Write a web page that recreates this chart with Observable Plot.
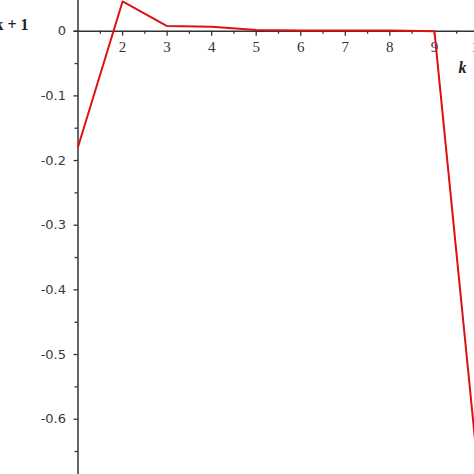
<!DOCTYPE html>
<html>
<head>
<meta charset="utf-8">
<script src="https://cdn.jsdelivr.net/npm/d3@7"></script>
<script src="https://cdn.jsdelivr.net/npm/@observablehq/plot@0.6"></script>
<style>
  html, body { margin: 0; padding: 0; background: #fff; overflow: hidden; }
  #chart svg { overflow: hidden; display: block; }
</style>
</head>
<body>
<div id="chart"></div>
<script>
// Data
const kValues = [1, 2, 3, 4, 5, 6, 7, 8, 9, 10];
const seriesValues = [-0.179, 0.046, 0.008, 0.007, 0.002, 0.001, 0.001, 0.001, 0.0, -0.693];
const xTickLabels = [2, 3, 4, 5, 6, 7, 8, 9, 10];
const xMinorTicks = [1.5, 2.5, 3.5, 4.5, 5.5, 6.5, 7.5, 8.5, 9.5];
const yTickValues = [0, -0.1, -0.2, -0.3, -0.4, -0.5, -0.6];
const yMinorTicks = [-0.05, -0.15, -0.25, -0.35, -0.45, -0.55, -0.65];
const xAxisLabel = "k";
const yAxisLabel = "k + 1";

const data = kValues.map((k, i) => ({k, v: seriesValues[i]}));
const axisColor = "#333";
const fmtY = d => d === 0 ? "0" : "-" + Math.abs(d).toFixed(1);

const chart = Plot.plot({
  width: 474,
  height: 474,
  marginLeft: 0,
  marginRight: 0,
  marginTop: 0,
  marginBottom: 0,
  x: {domain: [-0.74, 9.9], axis: null},
  y: {domain: [-0.6855, 0.0475], axis: null},
  marks: [
    // y axis line
    Plot.ruleX([1], {stroke: axisColor, strokeWidth: 1.5}),
    // x axis line
    Plot.ruleY([0], {x1: 1, x2: 11, stroke: axisColor, strokeWidth: 1.5, insetLeft: -4}),
    // x major ticks
    Plot.ruleX(xTickLabels, {x: d => d, y1: 0, y2: 0, insetBottom: -5, stroke: axisColor, strokeWidth: 1.3}),
    // x minor ticks
    Plot.ruleX(xMinorTicks, {x: d => d, y1: 0, y2: 0, insetBottom: -3, stroke: axisColor, strokeWidth: 1.3}),
    // y major ticks
    Plot.ruleY(yTickValues, {y: d => d, x1: 1, x2: 1, insetLeft: -4, stroke: axisColor, strokeWidth: 1.3}),
    // y minor ticks
    Plot.ruleY(yMinorTicks, {y: d => d, x1: 1, x2: 1, insetLeft: -3, stroke: axisColor, strokeWidth: 1.3}),
    // x tick labels
    Plot.text(xTickLabels, {x: d => d, y: 0, dy: 16, text: d => String(d),
      fontFamily: "Liberation Serif", fontSize: 15, fill: "#333", textAnchor: "middle", lineAnchor: "middle"}),
    // y tick labels
    Plot.text(yTickValues, {x: 1, y: d => d, dx: -12, text: fmtY,
      fontFamily: "DejaVu Sans", fontSize: 13, fill: "#3a3a3a", textAnchor: "end", lineAnchor: "middle"}),
    // data line
    Plot.line(data, {x: "k", y: "v", stroke: "#dd1111", strokeWidth: 2}),
    // axis labels
    Plot.text([xAxisLabel], {frameAnchor: "top-right", dx: -12, dy: 67, text: d => d,
      fontFamily: "Liberation Serif", fontSize: 16, fontWeight: "bold", fontStyle: "italic",
      fill: "#222", textAnchor: "middle", lineAnchor: "middle"}),
    Plot.text([yAxisLabel], {frameAnchor: "top-left", dx: 28, dy: 24, text: d => d,
      fontFamily: "Liberation Serif", fontSize: 16, fontWeight: "bold",
      fill: "#222", textAnchor: "end", lineAnchor: "middle"})
  ]
});
document.getElementById("chart").appendChild(chart);
</script>
</body>
</html>
